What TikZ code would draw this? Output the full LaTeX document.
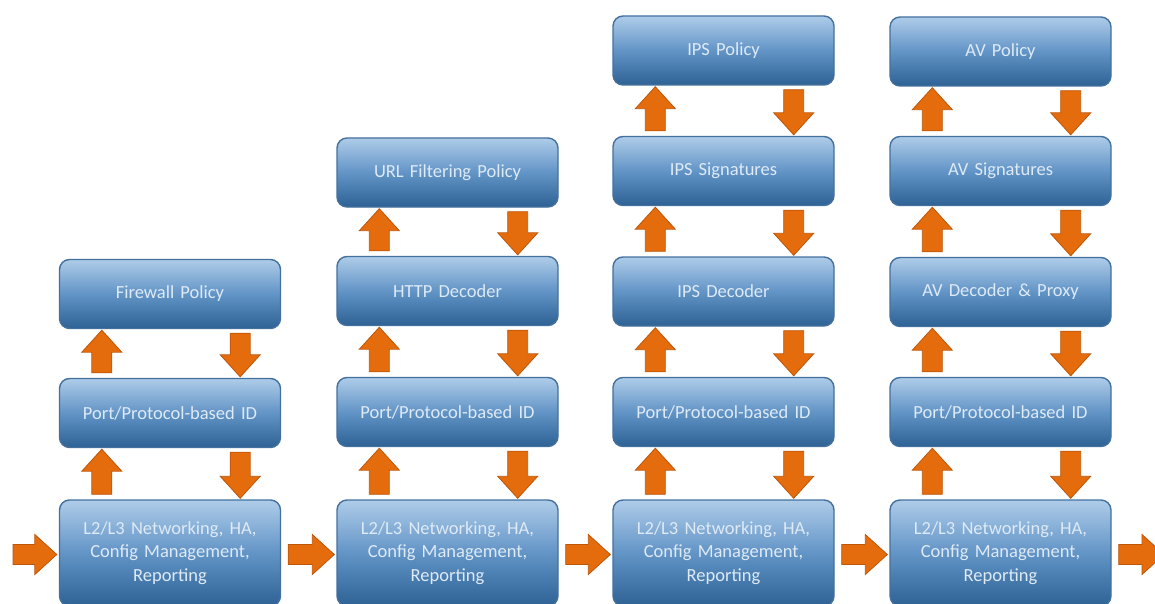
\documentclass[tikz,border=0pt]{standalone}
\usepackage{fontspec}
\setmainfont{Carlito}
\usetikzlibrary{calc}

\definecolor{boxtop}{RGB}{174,204,233}
\definecolor{boxmid}{RGB}{98,148,198}
\definecolor{boxbot}{RGB}{46,98,148}
\definecolor{boxedge}{RGB}{68,112,158}
\definecolor{boxtext}{RGB}{222,234,246}
\definecolor{flowfill}{RGB}{228,108,12}
\definecolor{flowedge}{RGB}{190,86,10}

\tikzset{
  layer/.style={draw=boxedge, line width=1.4pt, rounded corners=10pt,
    top color=boxtop, bottom color=boxbot, middle color=boxmid,
    minimum width=221pt, minimum height=69pt, inner sep=0pt,
    text=boxtext, font=\fontsize{18.5}{23.5}\selectfont,
    align=center, text width=216pt},
  baselayer/.style={layer, minimum height=106pt},
  flow/.style={fill=flowfill, draw=flowedge, line width=0.8pt, line join=miter}
}

% block arrow from #1 to #2 (shaft 20pt wide, head 40pt wide, 22pt long)
\newcommand\flowarrow[2]{%
  \coordinate (fa-s) at #1;
  \coordinate (fa-e) at #2;
  \coordinate (fa-h) at ($(fa-e)!22pt!(fa-s)$);
  \draw[flow] ($(fa-s)!10pt!90:(fa-e)$) -- ($(fa-h)!10pt!-90:(fa-s)$)
    -- ($(fa-h)!20pt!-90:(fa-s)$) -- (fa-e) -- ($(fa-h)!20pt!90:(fa-s)$)
    -- ($(fa-h)!10pt!90:(fa-s)$) -- ($(fa-s)!10pt!-90:(fa-e)$) -- cycle;}

\begin{document}
\begin{tikzpicture}[x=1pt,y=-1pt]
  \useasboundingbox (0,0) rectangle (1155,604);
  \clip (0,0) rectangle (1155,604);

  % column 1: firewall
  \node[baselayer] (bot1) at (170,553) {L2/L3 Networking, HA,\\Config Management,\\Reporting};
  \node[layer] (port1) at (170,413) {Port/Protocol-based ID};
  \node[layer] (fw1) at (170,294) {Firewall Policy};

  % column 2: URL filtering
  \node[baselayer] (bot2) at (447.5,553) {L2/L3 Networking, HA,\\Config Management,\\Reporting};
  \node[layer] (port2) at (447.5,412) {Port/Protocol-based ID};
  \node[layer] (http2) at (447.5,291) {HTTP Decoder};
  \node[layer] (url2) at (447.5,172.5) {URL Filtering Policy};

  % column 3: IPS
  \node[baselayer] (bot3) at (723.5,553) {L2/L3 Networking, HA,\\Config Management,\\Reporting};
  \node[layer] (port3) at (723.5,412) {Port/Protocol-based ID};
  \node[layer] (dec3) at (723.5,291.5) {IPS Decoder};
  \node[layer] (sig3) at (723.5,171) {IPS Signatures};
  \node[layer] (pol3) at (723.5,50.5) {IPS Policy};

  % column 4: AV
  \node[baselayer] (bot4) at (1000.5,553) {L2/L3 Networking, HA,\\Config Management,\\Reporting};
  \node[layer] (port4) at (1000.5,412) {Port/Protocol-based ID};
  \node[layer] (dec4) at (1000.5,292) {AV Decoder \& Proxy};
  \node[layer] (sig4) at (1000.5,171) {AV Signatures};
  \node[layer] (pol4) at (1000.5,51.5) {AV Policy};

  % up and down arrows inside each column
  \foreach \lo/\hi in {bot1/port1, port1/fw1,
      bot2/port2, port2/http2, http2/url2,
      bot3/port3, port3/dec3, dec3/sig3, sig3/pol3,
      bot4/port4, port4/dec4, dec4/sig4, sig4/pol4} {
    \flowarrow{($(\lo.north west)+(43,-5)$)}{($(\hi.south west)+(43,1)$)}
    \flowarrow{($(\hi.south east)+(-41,4)$)}{($(\lo.north east)+(-41,-1)$)}
  }

  % traffic passing from one stack to the next
  \coordinate (in) at (13,554.5);
  \coordinate (out) at (1164,554.5);
  \flowarrow{(in)}{($(bot1.west)+(-2,1.5)$)}
  \foreach \a/\b in {bot1/bot2, bot2/bot3, bot3/bot4} {
    \flowarrow{($(\a.east)+(7,1.5)$)}{($(\b.west)+(-2,1.5)$)}
  }
  \flowarrow{($(bot4.east)+(7,1.5)$)}{(out)}
\end{tikzpicture}
\end{document}
